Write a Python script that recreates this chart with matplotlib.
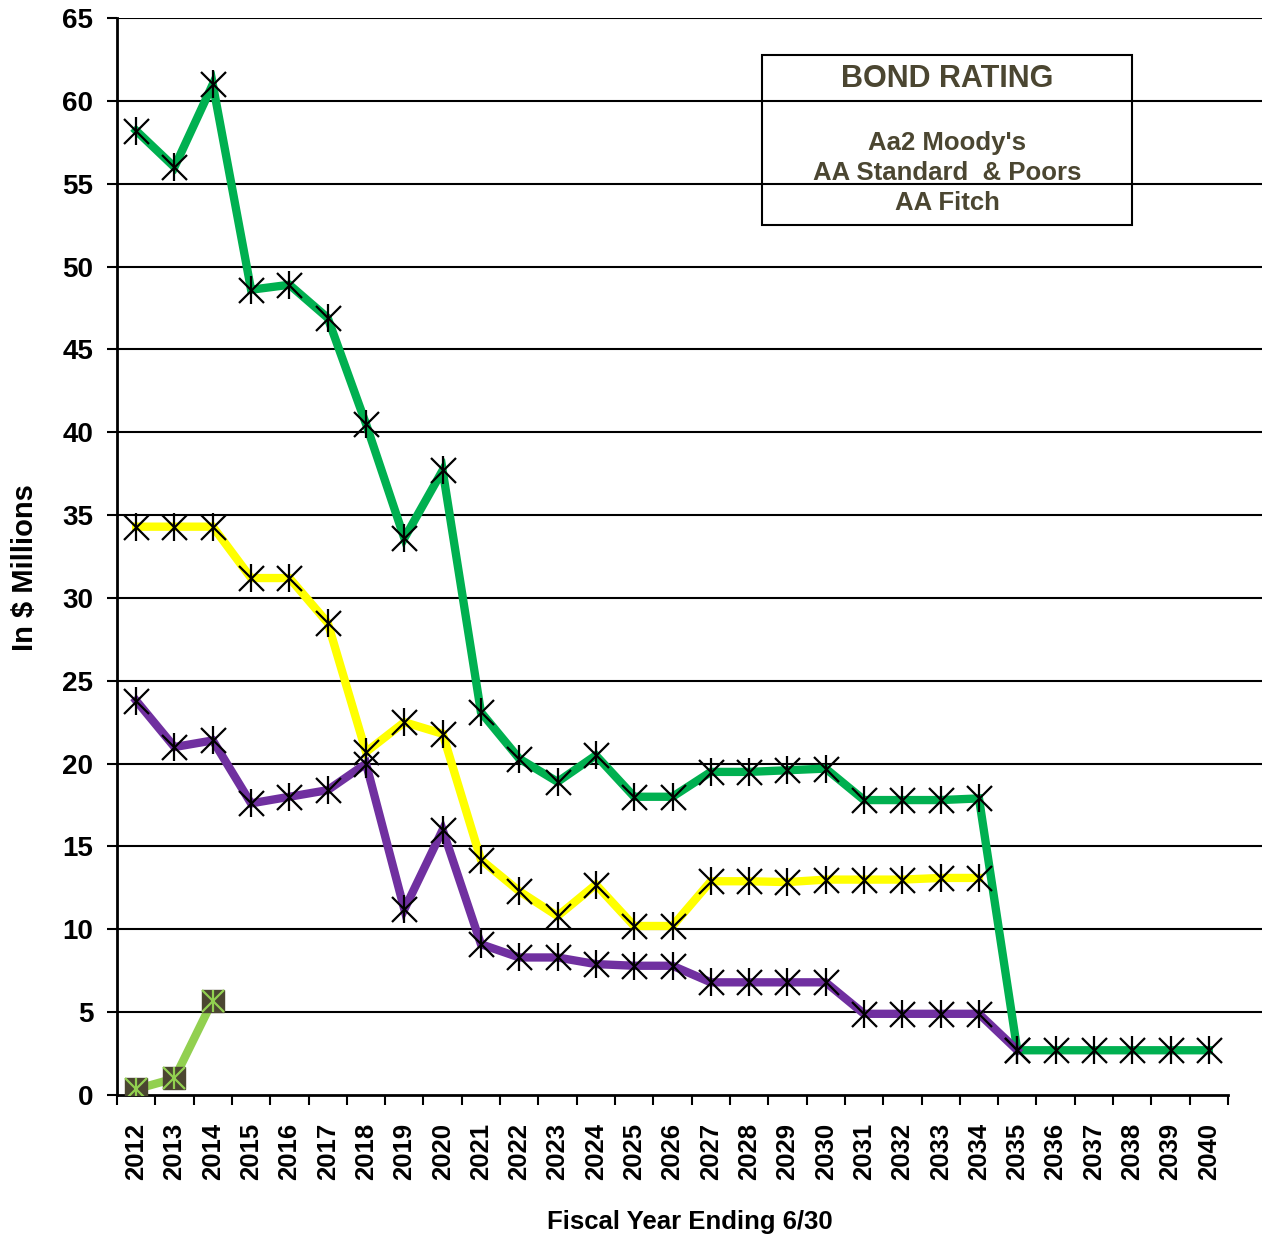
import numpy as np
import matplotlib
matplotlib.use("Agg")
import matplotlib.pyplot as plt
from matplotlib.patches import Rectangle

plt.rcParams["font.family"] = ["Liberation Sans", "DejaVu Sans"]
plt.rcParams["font.weight"] = "bold"

# Fiscal years
years = list(range(2012, 2041))

# Series values (in $ millions)
green_vals = [58.2, 56.0, 61.0, 48.6, 48.9, 46.9, 40.5, 33.6, 37.7, 23.1,
              20.3, 18.9, 20.5, 18.0, 18.0, 19.5, 19.5, 19.6, 19.7, 17.8,
              17.8, 17.8, 17.9, 2.7, 2.7, 2.7, 2.7, 2.7, 2.7]
yellow_vals = [34.3, 34.3, 34.3, 31.2, 31.2, 28.5, 20.7, 22.5, 21.8, 14.2,
               12.3, 10.8, 12.7, 10.2, 10.2, 12.9, 12.9, 12.85, 13.0, 13.0,
               13.0, 13.1, 13.1]
purple_vals = [23.8, 21.0, 21.4, 17.6, 18.0, 18.4, 20.0, 11.2, 16.0, 9.1,
               8.3, 8.3, 7.9, 7.8, 7.8, 6.8, 6.8, 6.8, 6.8, 4.9,
               4.9, 4.9, 4.9, 2.7]
lime_vals = [0.35, 1.0, 5.7]

rating_title = "BOND RATING"
rating_lines = ["Aa2 Moody's", "AA Standard  & Poors", "AA Fitch"]

W, H = 1262, 1237
fig = plt.figure(figsize=(W / 100, H / 100), dpi=100)
ax = fig.add_axes([117 / W, 1 - 1095 / H, 1 - 117 / W, (1095 - 18) / H])

step = (1228 - 117) / 29
x_max = -0.5 + (W - 117) / step
ax.set_xlim(-0.5, x_max)
ax.set_ylim(0, 65)

# gridlines
for v in range(5, 70, 5):
    ax.axhline(v, color="black", lw=1.5, zorder=1)


def star_series(vals, color):
    x = np.arange(len(vals))
    ax.plot(x, vals, color=color, lw=6, zorder=3, solid_joinstyle="miter")
    ax.plot(x, vals, ls="none", marker="x", ms=18, mew=1.6, color="black", zorder=4)
    ax.plot(x, vals, ls="none", marker="|", ms=20, mew=1.6, color="black", zorder=4)


star_series(green_vals, "#00b050")
star_series(yellow_vals, "#ffff00")
star_series(purple_vals, "#7030a0")

# small series with square markers
xl = np.arange(len(lime_vals))
ax.plot(xl, lime_vals, color="#92d050", lw=6, zorder=3)
ax.plot(xl, lime_vals, ls="none", marker="s", ms=16, mfc="#4b4631", mec="#4b4631", zorder=4)
ax.plot(xl, lime_vals, ls="none", marker="x", ms=16, mew=1.6, color="#92d050", zorder=5)
ax.plot(xl, lime_vals, ls="none", marker="|", ms=16, mew=1.6, color="#92d050", zorder=5)

# axes styling
for s in ["top", "right"]:
    ax.spines[s].set_visible(False)
ax.spines["left"].set_linewidth(2)
ax.spines["bottom"].set_linewidth(2)
ax.spines["bottom"].set_bounds(-0.5, 28.5)

ax.set_yticks(range(0, 70, 5))
ax.tick_params(axis="y", length=7, width=1.5, labelsize=20, pad=10)
ax.set_xticks(np.arange(len(years)))
ax.set_xticklabels([str(y) for y in years], rotation=90, fontsize=18.5, fontweight="bold")
ax.set_xticks(np.arange(-0.5, 29, 1), minor=True)
ax.tick_params(axis="x", which="major", length=0, pad=20)
ax.tick_params(axis="x", which="minor", length=7, width=1.5)
for lab in ax.get_yticklabels():
    lab.set_fontweight("bold")

fig.text(25 / W, 1 - 568 / H, "In $ Millions", rotation=90, ha="center", va="center",
         fontsize=21, fontweight="bold")
fig.text(690 / W, 1 - 1222 / H, "Fiscal Year Ending 6/30", ha="center", va="center",
         fontsize=18.5, fontweight="bold")

# bond rating box
box_l, box_t, box_r, box_b = 762, 55, 1132, 225
fig.patches.append(Rectangle((box_l / W, 1 - box_b / H), (box_r - box_l) / W,
                             (box_b - box_t) / H, transform=fig.transFigure,
                             fill=False, ec="black", lw=1.5, zorder=10))
cx = (box_l + box_r) / 2 / W
txt_color = "#4b4631"
fig.text(cx, 1 - 79 / H, rating_title, ha="center", va="center", fontsize=22,
         fontweight="bold", color=txt_color)
for i, line in enumerate(rating_lines):
    fig.text(cx, 1 - (143 + 30 * i) / H, line, ha="center", va="center", fontsize=18.5,
             fontweight="bold", color=txt_color)

fig.savefig("out.png", dpi=100)
